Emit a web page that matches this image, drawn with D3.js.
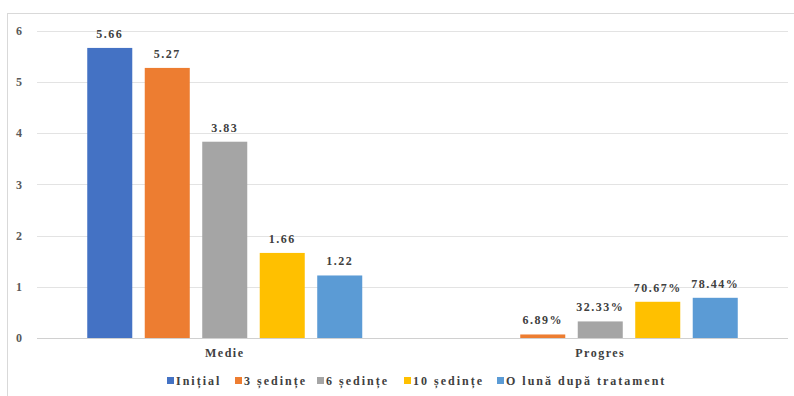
<!DOCTYPE html>
<html>
<head>
<meta charset="utf-8">
<script src="https://cdn.jsdelivr.net/npm/d3@7"></script>
<style>
  body { margin: 0; background: #fff; }
  svg text { font-family: "Liberation Serif", "DejaVu Serif", serif !important; font-weight: bold; }
</style>
</head>
<body>
<div class="container"></div>
<script>
var w = 794;
var h = 396;

// data
var categories = ["Medie", "Progres"];
var series = ["Inițial", "3 ședințe", "6 ședințe", "10 ședințe", "O lună după tratament"];
var colors = ["#4472C4", "#ED7D31", "#A5A5A5", "#FFC000", "#5B9BD5"];
var medie = [5.66, 5.27, 3.83, 1.66, 1.22];
var progres = [null, 0.0689, 0.3233, 0.7067, 0.7844];
var progresLabels = ["", "6.89%", "32.33%", "70.67%", "78.44%"];
var yTicks = [0, 1, 2, 3, 4, 5, 6];

var svg = d3.select('.container')
  .append('svg')
  .attr('width', w)
  .attr('height', h);

// chart frame
svg.append('rect')
  .attr('x', 7.5)
  .attr('y', 13.5)
  .attr('width', 820)
  .attr('height', 420)
  .attr('fill', 'none')
  .attr('stroke', '#d9d9d9');

var x0 = d3.scaleBand()
  .domain(categories)
  .range([37, 788])
  .padding(0);

var x1 = d3.scaleBand()
  .domain(series)
  .range([0, x0.bandwidth()])
  .paddingInner(0.217)
  .paddingOuter(0.874);

var y = d3.scaleLinear()
  .domain([0, 6])
  .range([338, 30.5]);

// gridlines
svg.append('g')
  .selectAll('line')
  .data(yTicks)
  .enter()
  .append('line')
  .attr('x1', 37)
  .attr('x2', 788)
  .attr('y1', d => Math.round(y(d)) + 0.5)
  .attr('y2', d => Math.round(y(d)) + 0.5)
  .attr('stroke', d => d === 0 ? '#d0d0d0' : '#e3e3e3')
  .attr('stroke-width', 1);

var yAxis = d3.axisLeft(y).tickValues(yTicks).tickFormat(d3.format('d')).tickSize(0).tickPadding(0);
var yg = svg.append('g')
  .attr('transform', 'translate(22, 0)')
  .call(yAxis);
yg.select('.domain').remove();
yg.selectAll('text')
  .attr('fill', '#595959')
  .style('font-size', '12px');

var xAxis = d3.axisBottom(x0).tickSize(0).tickPadding(10);
var xg = svg.append('g')
  .attr('transform', 'translate(0, 338)')
  .call(xAxis);
xg.select('.domain').remove();
xg.selectAll('text')
  .attr('fill', '#404040')
  .style('font-size', '12px')
  .style('letter-spacing', '1.5px');

var rows = [
  { cat: "Medie", vals: medie, labels: medie.map(d => d.toFixed(2)) },
  { cat: "Progres", vals: progres, labels: progresLabels }
];

rows.forEach(function(r) {
  var g = svg.append('g')
    .attr('transform', 'translate(' + x0(r.cat) + ',0)');
  var items = series.map((s, i) => ({ s: s, v: r.vals[i], lab: r.labels[i], c: colors[i] }))
    .filter(d => d.v !== null);

  g.selectAll('rect')
    .data(items)
    .enter()
    .append('rect')
    .attr('x', d => x1(d.s))
    .attr('y', d => y(d.v))
    .attr('width', x1.bandwidth())
    .attr('height', d => y(0) - y(d.v))
    .attr('fill', d => d.c);

  g.selectAll('text')
    .data(items)
    .enter()
    .append('text')
    .attr('x', d => x1(d.s) + x1.bandwidth() / 2)
    .attr('y', d => y(d.v) - 10)
    .attr('text-anchor', 'middle')
    .attr('fill', '#404040')
    .style('font-size', '12px')
    .style('letter-spacing', '1.5px')
    .text(d => d.lab);
});

// legend
var legendX = [167, 235, 317, 404, 497];
var legend = svg.append('g').attr('class', 'legend');
series.forEach(function(s, i) {
  legend.append('rect')
    .attr('x', legendX[i])
    .attr('y', 377)
    .attr('width', 7)
    .attr('height', 7)
    .attr('fill', colors[i]);
  legend.append('text')
    .attr('x', legendX[i] + 9)
    .attr('y', 385)
    .attr('fill', '#404040')
    .style('font-size', '12px')
    .style('letter-spacing', '2px')
    .text(s);
});
</script>
</body>
</html>
